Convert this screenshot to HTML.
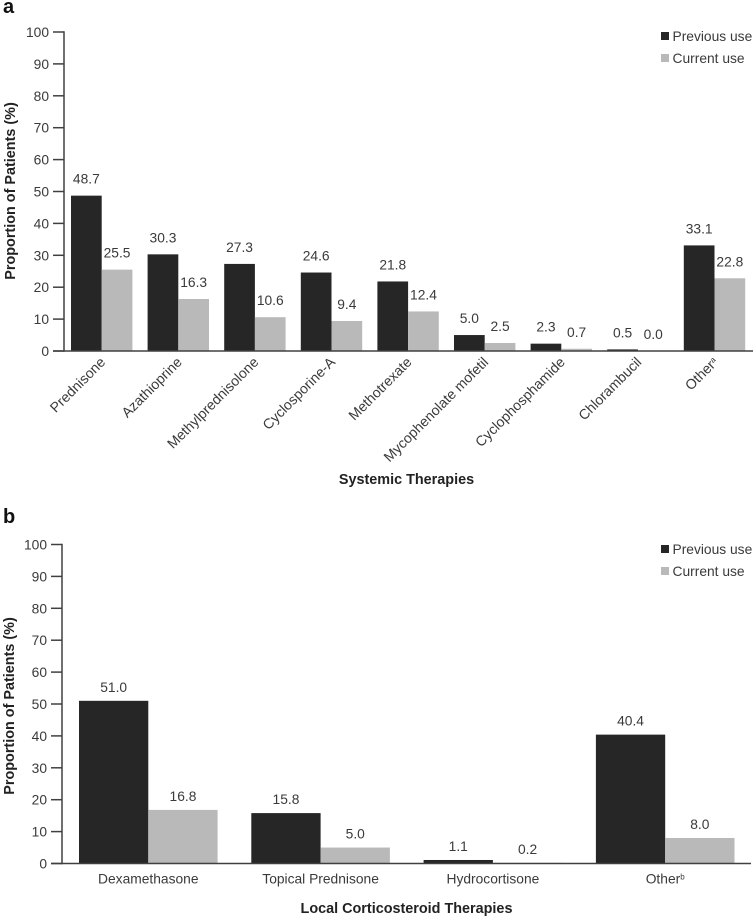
<!DOCTYPE html>
<html lang="en">
<head>
<meta charset="utf-8">
<title>Systemic and Local Corticosteroid Therapies</title>
<style>
  html, body { margin: 0; padding: 0; background: #fff; }
  svg { display: block; font-family: "Liberation Sans", sans-serif; }
</style>
</head>
<body>
<svg id="figure" width="755" height="918" viewBox="0 0 755 918" xmlns="http://www.w3.org/2000/svg"></svg>
<script>
const yTicks = [0, 10, 20, 30, 40, 50, 60, 70, 80, 90, 100];
const legendLabels = ['Previous use', 'Current use'];

const systemicCategories = ['Prednisone', 'Azathioprine', 'Methylprednisolone', 'Cyclosporine-A', 'Methotrexate', 'Mycophenolate mofetil', 'Cyclophosphamide', 'Chlorambucil', 'Other'];
const systemicPrevious = [48.7, 30.3, 27.3, 24.6, 21.8, 5.0, 2.3, 0.5, 33.1];
const systemicCurrent = [25.5, 16.3, 10.6, 9.4, 12.4, 2.5, 0.7, 0.0, 22.8];

const localCategories = ['Dexamethasone', 'Topical Prednisone', 'Hydrocortisone', 'Other'];
const localPrevious = [51.0, 15.8, 1.1, 40.4];
const localCurrent = [16.8, 5.0, 0.2, 8.0];

const NS = 'http://www.w3.org/2000/svg';
const root = document.getElementById('figure');
const DARK = '#262626', LIGHT = '#b9b9b9', INK = '#3a3a3a', AXIS = '#404040';
const LABEL_SIZE = 13.8;
const ROTATED_SIZE = 14.1;
const TITLE_SIZE = 14.4;

function make(tag, parent, props, text) {
  const el = document.createElementNS(NS, tag);
  for (const k in props) el.setAttribute(k, props[k]);
  if (text !== undefined) el.textContent = text;
  parent.appendChild(el);
  return el;
}

function slug(s) {
  return s.toLowerCase().replace(/[^a-z0-9]+/g, '-');
}

function drawChart(cfg) {
  const g = make('g', root, {});
  
  

  const yScale = v => cfg.y0 + (cfg.y100 - cfg.y0) * v / 100;
  const groupX = i => cfg.firstBar + cfg.step * i;

  const panel = make('text', g, { x: 3, y: cfg.panelY, 'font-size': 20, 'font-weight': 'bold', fill: '#111' }, cfg.panel);
  
  

  const yTitle = make('text', g, {
    x: 0, y: 0, 'font-size': TITLE_SIZE, 'font-weight': 'bold', fill: '#222', 'text-anchor': 'middle',
    transform: 'translate(' + cfg.yTitleX + ' ' + cfg.yTitleY + ') rotate(-90)'
  }, 'Proportion of Patients (%)');
  
  

  yTicks.forEach(t => {
    const y = yScale(t);
    const tick = make('line', g, { x1: cfg.axisX - 11, x2: cfg.axisX, y1: y, y2: y, stroke: AXIS, 'stroke-width': 1.5 });
    
    
    const label = make('text', g, { x: cfg.axisX - 15, y: y + 5, 'font-size': LABEL_SIZE, fill: INK, 'text-anchor': 'end' }, t);
    
    
  });

  const drawBars = (values, offset, fill, series) => {
    values.forEach((v, i) => {
      const x = groupX(i) + offset;
      const top = yScale(v);
      const bar = make('rect', g, { x: x, y: top, width: cfg.barW, height: cfg.y0 - top, fill: fill });
      
      
      const val = make('text', g, { x: x + cfg.barW / 2, y: top - cfg.valueGap, 'font-size': LABEL_SIZE, fill: INK, 'text-anchor': 'middle' }, v.toFixed(1));
      
      
    });
  };
  drawBars(cfg.previous, 0, DARK, 'previous');
  drawBars(cfg.current, cfg.barW, LIGHT, 'current');

  const yAxis = make('line', g, { x1: cfg.axisX, x2: cfg.axisX, y1: cfg.y100 - 0.75, y2: cfg.y0 + 0.75, stroke: AXIS, 'stroke-width': 1.5 });
  
  
  const xAxis = make('line', g, { x1: cfg.axisX - 11, x2: cfg.xEnd, y1: cfg.y0, y2: cfg.y0, stroke: AXIS, 'stroke-width': 1.5 });
  
  

  cfg.categories.forEach((c, i) => {
    const cx = groupX(i) + cfg.barW;
    const props = { fill: INK };
    if (cfg.rotated) {
      props['font-size'] = ROTATED_SIZE;
      props.x = 0;
      props.y = 0;
      props['text-anchor'] = 'end';
      props.transform = 'translate(' + (cx + 4.5) + ' ' + (cfg.y0 + 12) + ') rotate(-45)';
    } else {
      props['font-size'] = LABEL_SIZE;
      props.x = cx;
      props.y = cfg.y0 + 20;
      props['text-anchor'] = 'middle';
    }
    const label = make('text', g, props, c);
    
    
    if (c === 'Other') {
      const sup = make('tspan', label, { 'font-size': 8, dy: -4 }, cfg.otherNote);
      
      
    }
  });

  const xTitle = make('text', g, { x: 406.5, y: cfg.xTitleY, 'font-size': TITLE_SIZE, 'font-weight': 'bold', fill: '#222', 'text-anchor': 'middle' }, cfg.xTitle);
  
  

  legendLabels.forEach((name, i) => {
    const y = cfg.legendY + i * 22;
    const entry = make('g', g, {});
    
    
    const sw = make('rect', entry, { x: 661, y: y, width: 8, height: 8, fill: i === 0 ? DARK : LIGHT });
    
    
    const tx = make('text', entry, { x: 672.5, y: y + 9, 'font-size': LABEL_SIZE, fill: INK }, name);
    
    
  });
}

drawChart({
  name: 'systemic-therapies-chart', panel: 'a', panelY: 13,
  categories: systemicCategories, previous: systemicPrevious, current: systemicCurrent,
  y0: 351, y100: 32, axisX: 64, xEnd: 753, firstBar: 71, step: 76.6, barW: 30.7, valueGap: 12,
  rotated: true, otherNote: 'a', xTitle: 'Systemic Therapies', xTitleY: 484,
  yTitleX: 15, yTitleY: 191, legendY: 32
});
drawChart({
  name: 'local-corticosteroid-therapies-chart', panel: 'b', panelY: 523,
  categories: localCategories, previous: localPrevious, current: localCurrent,
  y0: 863.5, y100: 544.5, axisX: 62, xEnd: 751, firstBar: 79, step: 172.3, barW: 69.3, valueGap: 9,
  rotated: false, otherNote: 'b', xTitle: 'Local Corticosteroid Therapies', xTitleY: 913,
  yTitleX: 14, yTitleY: 706, legendY: 545
});
</script>
</body>
</html>
